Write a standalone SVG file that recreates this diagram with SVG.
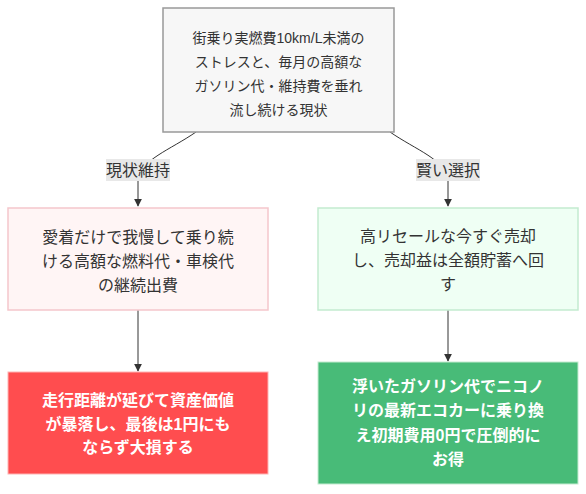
<svg xmlns="http://www.w3.org/2000/svg" width="586" height="494" viewBox="0 0 586 494">
<defs>
<marker id="arr" viewBox="0 0 10 10" refX="9" refY="5" markerWidth="8" markerHeight="8" markerUnits="userSpaceOnUse" orient="auto">
<path d="M0,0 L10,5 L0,10 z" fill="#333"/>
</marker>
<style>
text{font-family:"Liberation Sans","Noto Sans CJK JP",sans-serif;font-size:16px;text-anchor:middle}
.small{font-size:14px}
.dark{fill:#333}
.white{fill:#fff;font-weight:bold}
.edge{fill:none;stroke:#333;stroke-width:1}
.lbl{fill:#e8e8e8}
</style>
</defs>
<rect width="586" height="494" fill="#fff"/>
<g id="edges">
<path class="edge" d="M196,132 C170,150 140,160 138,180 L138,206" marker-end="url(#arr)"/>
<path class="edge" d="M390,132 C416,150 446,160 448,180 L448,206" marker-end="url(#arr)"/>
<path class="edge" d="M138,310 L138,371" marker-end="url(#arr)"/>
<path class="edge" d="M448,310 L448,361" marker-end="url(#arr)"/>
<g id="label1"><rect class="lbl" x="106" y="159" width="64" height="22"/><text class="dark" x="138" y="176">現状維持</text></g>
<g id="label2"><rect class="lbl" x="416" y="159" width="64" height="22"/><text class="dark" x="448" y="176">賢い選択</text></g>
</g>
<g id="start">
<rect x="163" y="8" width="231" height="124" fill="#f7f7f7" stroke="#999" stroke-width="1.5"/>
<text class="dark small" x="278.5" y="43">街乗り実燃費10km/L未満の</text>
<text class="dark small" x="278.5" y="67">ストレスと、毎月の高額な</text>
<text class="dark small" x="278.5" y="91">ガソリン代・維持費を垂れ</text>
<text class="dark small" x="278.5" y="115">流し続ける現状</text>
</g>
<g id="keep">
<rect x="8" y="208" width="260" height="102" fill="#fff5f5" stroke="#f5c6cb" stroke-width="1.5"/>
<text class="dark" x="138" y="243">愛着だけで我慢して乗り続</text>
<text class="dark" x="138" y="267">ける高額な燃料代・車検代</text>
<text class="dark" x="138" y="291">の継続出費</text>
</g>
<g id="sell">
<rect x="318" y="208" width="260" height="102" fill="#effff4" stroke="#c3ebd0" stroke-width="1.5"/>
<text class="dark" x="448" y="242">高リセールな今すぐ売却</text>
<text class="dark" x="448" y="266">し、売却益は全額貯蓄へ回</text>
<text class="dark" x="448" y="290">す</text>
</g>
<g id="loss">
<rect x="8" y="372" width="260" height="102" fill="#ff4d4f" stroke="#ffb3b3" stroke-width="1"/>
<text class="white" x="138" y="406">走行距離が延びて資産価値</text>
<text class="white" x="138" y="430">が暴落し、最後は1円にも</text>
<text class="white" x="138" y="453">ならず大損する</text>
</g>
<g id="gain">
<rect x="318" y="362" width="260" height="122" fill="#48bb78" stroke="#c3ebd0" stroke-width="1"/>
<text class="white" x="448" y="392">浮いたガソリン代でニコノ</text>
<text class="white" x="448" y="416">リの最新エコカーに乗り換</text>
<text class="white" x="448" y="441">え初期費用0円で圧倒的に</text>
<text class="white" x="448" y="465">お得</text>
</g>
</svg>
